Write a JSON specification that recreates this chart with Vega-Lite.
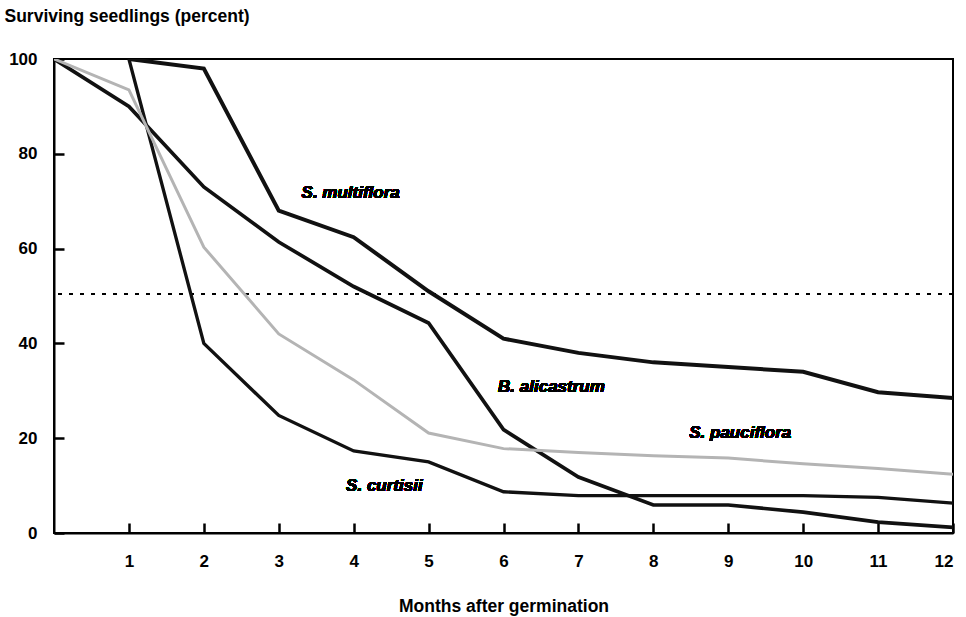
{
  "$schema": "https://vega.github.io/schema/vega-lite/v6.json",
  "width": 899,
  "height": 474,
  "autosize": "none",
  "padding": {"left": 54, "top": 59, "right": 13, "bottom": 84},
  "background": "white",
  "config": {
    "font": "Liberation Sans",
    "view": {"stroke": "black", "strokeWidth": 2},
    "axis": {"grid": false, "ticks": true, "zindex": 1, "domainColor": "black", "domainWidth": 2, "tickColor": "black", "tickWidth": 2.5, "labelColor": "black", "titleColor": "black", "labelFont": "Liberation Sans", "titleFont": "Liberation Sans", "labelFontWeight": "bold", "titleFontWeight": "bold", "labelFontSize": 17, "titleFontSize": 17.5}
  },
  "data": {"values": [
    {"species": "S. multiflora", "month": 1, "pct": 100},
    {"species": "S. multiflora", "month": 2, "pct": 98},
    {"species": "S. multiflora", "month": 3, "pct": 68},
    {"species": "S. multiflora", "month": 4, "pct": 62.4},
    {"species": "S. multiflora", "month": 5, "pct": 51},
    {"species": "S. multiflora", "month": 6, "pct": 41},
    {"species": "S. multiflora", "month": 7, "pct": 38},
    {"species": "S. multiflora", "month": 8, "pct": 36},
    {"species": "S. multiflora", "month": 9, "pct": 35},
    {"species": "S. multiflora", "month": 10, "pct": 34},
    {"species": "S. multiflora", "month": 11, "pct": 29.7},
    {"species": "S. multiflora", "month": 12, "pct": 28.5},
    {"species": "B. alicastrum", "month": 0, "pct": 100},
    {"species": "B. alicastrum", "month": 1, "pct": 90},
    {"species": "B. alicastrum", "month": 2, "pct": 73},
    {"species": "B. alicastrum", "month": 3, "pct": 61.4},
    {"species": "B. alicastrum", "month": 4, "pct": 52},
    {"species": "B. alicastrum", "month": 5, "pct": 44.3},
    {"species": "B. alicastrum", "month": 6, "pct": 21.8},
    {"species": "B. alicastrum", "month": 7, "pct": 11.8},
    {"species": "B. alicastrum", "month": 8, "pct": 5.9},
    {"species": "B. alicastrum", "month": 9, "pct": 5.9},
    {"species": "B. alicastrum", "month": 10, "pct": 4.4},
    {"species": "B. alicastrum", "month": 11, "pct": 2.3},
    {"species": "B. alicastrum", "month": 12, "pct": 1.2},
    {"species": "S. curtisii", "month": 1, "pct": 100},
    {"species": "S. curtisii", "month": 2, "pct": 40},
    {"species": "S. curtisii", "month": 3, "pct": 24.8},
    {"species": "S. curtisii", "month": 4, "pct": 17.3},
    {"species": "S. curtisii", "month": 5, "pct": 15},
    {"species": "S. curtisii", "month": 6, "pct": 8.7},
    {"species": "S. curtisii", "month": 7, "pct": 7.9},
    {"species": "S. curtisii", "month": 8, "pct": 7.9},
    {"species": "S. curtisii", "month": 9, "pct": 7.9},
    {"species": "S. curtisii", "month": 10, "pct": 7.9},
    {"species": "S. curtisii", "month": 11, "pct": 7.5},
    {"species": "S. curtisii", "month": 12, "pct": 6.3},
    {"species": "S. pauciflora", "month": 0, "pct": 100},
    {"species": "S. pauciflora", "month": 1, "pct": 93.5},
    {"species": "S. pauciflora", "month": 2, "pct": 60.3},
    {"species": "S. pauciflora", "month": 3, "pct": 42},
    {"species": "S. pauciflora", "month": 4, "pct": 32.3},
    {"species": "S. pauciflora", "month": 5, "pct": 21.1},
    {"species": "S. pauciflora", "month": 6, "pct": 17.8},
    {"species": "S. pauciflora", "month": 7, "pct": 17},
    {"species": "S. pauciflora", "month": 8, "pct": 16.3},
    {"species": "S. pauciflora", "month": 9, "pct": 15.8},
    {"species": "S. pauciflora", "month": 10, "pct": 14.6},
    {"species": "S. pauciflora", "month": 11, "pct": 13.6},
    {"species": "S. pauciflora", "month": 12, "pct": 12.4}
  ]},
  "layer": [
    {
      "mark": {"type": "rule", "strokeDash": [4, 7], "strokeWidth": 1.3, "color": "black"},
      "encoding": {"y": {"datum": 50.5, "type": "quantitative"}}
    },
    {
      "mark": {"type": "line", "strokeJoin": "miter", "clip": true},
      "encoding": {
        "x": {"field": "month", "type": "quantitative", "scale": {"domain": [0, 12], "nice": false, "zero": false},
              "axis": {"title": "Months after germination", "format": "d", "values": [1,2,3,4,5,6,7,8,9,10,11,12], "tickSize": -10, "labelPadding": 30, "titleY": 73, "titleBaseline": "middle"}},
        "y": {"field": "pct", "type": "quantitative", "scale": {"domain": [0, 100], "nice": false},
              "axis": {"title": "Surviving seedlings (percent)", "format": "d", "values": [0,20,40,60,80,100], "tickSize": -10, "labelPadding": 27, "titleAngle": 0, "titleAlign": "left", "titleX": -50, "titleY": -43, "titleBaseline": "middle"}},
        "detail": {"field": "species"},
        "color": {"field": "species", "type": "nominal", "legend": null,
                  "scale": {"domain": ["S. multiflora", "B. alicastrum", "S. curtisii", "S. pauciflora"], "range": ["#111111", "#111111", "#111111", "#b4b4b4"]}},
        "strokeWidth": {"field": "species", "type": "nominal", "legend": null,
                  "scale": {"domain": ["S. multiflora", "B. alicastrum", "S. curtisii", "S. pauciflora"], "range": [4, 3, 4, 2.2]}}
      }
    },
    {
      "mark": {"type": "text", "font": "Liberation Sans", "fontStyle": "italic", "fontWeight": "bold", "fontSize": 17, "color": "black"},
      "encoding": {"x": {"datum": 3.96}, "y": {"datum": 71.8}, "text": {"value": "S. multiflora"}}
    },
    {
      "mark": {"type": "text", "font": "Liberation Sans", "fontStyle": "italic", "fontWeight": "bold", "fontSize": 17, "color": "black"},
      "encoding": {"x": {"datum": 6.64}, "y": {"datum": 30.7}, "text": {"value": "B. alicastrum"}}
    },
    {
      "mark": {"type": "text", "font": "Liberation Sans", "fontStyle": "italic", "fontWeight": "bold", "fontSize": 17, "color": "black"},
      "encoding": {"x": {"datum": 9.16}, "y": {"datum": 21.0}, "text": {"value": "S. pauciflora"}}
    },
    {
      "mark": {"type": "text", "font": "Liberation Sans", "fontStyle": "italic", "fontWeight": "bold", "fontSize": 17, "color": "black"},
      "encoding": {"x": {"datum": 4.41}, "y": {"datum": 10.0}, "text": {"value": "S. curtisii"}}
    }
  ]
}
